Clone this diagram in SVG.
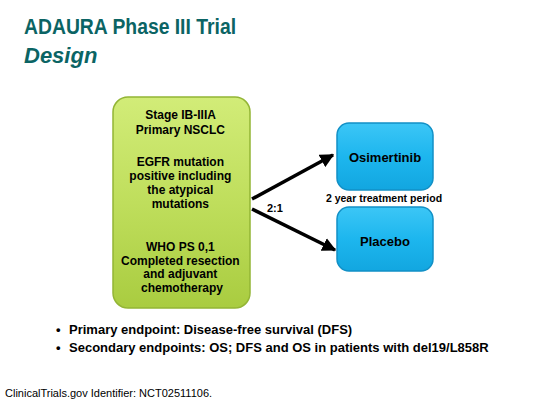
<svg xmlns="http://www.w3.org/2000/svg" width="540" height="405" viewBox="0 0 540 405">
<defs>
<linearGradient id="gGreen" x1="0" y1="0" x2="0" y2="1">
<stop offset="0" stop-color="#D2EC78"/>
<stop offset="0.5" stop-color="#BFDE5C"/>
<stop offset="1" stop-color="#A9CC40"/>
</linearGradient>
<linearGradient id="gBlue" x1="0" y1="0" x2="0" y2="1">
<stop offset="0" stop-color="#3CC6F6"/>
<stop offset="0.5" stop-color="#1DB6EE"/>
<stop offset="1" stop-color="#12A6E0"/>
</linearGradient>
<marker id="arr" viewBox="0 0 10 10" refX="9" refY="5" markerWidth="4" markerHeight="4" orient="auto" markerUnits="strokeWidth">
<path d="M0,0 L10,5 L0,10 z" fill="#000"/>
</marker>
</defs>
<style>
.title{font-family:"Liberation Sans",Arial,sans-serif;font-weight:bold;fill:#0B6464}
.box{font-family:"Liberation Sans",Arial,sans-serif;font-weight:bold;fill:#000;text-anchor:middle}
.body{font-family:"Liberation Sans",Arial,sans-serif;font-weight:bold;fill:#000}
.conn{stroke:#000;stroke-width:3.5;fill:none;marker-end:url(#arr)}
</style>
<rect width="540" height="405" fill="#fff"/>
<text class="title" x="24" y="34" font-size="22" textLength="212" lengthAdjust="spacingAndGlyphs">ADAURA Phase III Trial</text>
<text class="title" x="24" y="63" font-size="22" font-style="italic">Design</text>

<g id="connectors">
<line class="conn" x1="252" y1="199" x2="333" y2="155"/>
<line class="conn" x1="252" y1="209" x2="335" y2="250"/>
</g>

<g id="eligibility">
<rect x="113" y="97" width="137" height="211" rx="15" fill="url(#gGreen)" stroke="#93B535" stroke-width="1.5"/>
<text class="box" font-size="12">
<tspan x="182" y="119">Stage IB-IIIA</tspan>
<tspan x="182" y="134">Primary NSCLC</tspan>
<tspan x="182" y="166">EGFR mutation</tspan>
<tspan x="182" y="180">positive including</tspan>
<tspan x="182" y="194">the atypical</tspan>
<tspan x="182" y="208">mutations</tspan>
<tspan x="182" y="251">WHO PS 0,1</tspan>
<tspan x="182" y="265">Completed resection</tspan>
<tspan x="182" y="278">and adjuvant</tspan>
<tspan x="182" y="292">chemotherapy</tspan>
</text>
</g>

<g id="osimertinib">
<rect x="337" y="123" width="96" height="67" rx="12" fill="url(#gBlue)" stroke="#1290C6" stroke-width="1.5"/>
<text class="box" x="385" y="162" font-size="13">Osimertinib</text>
</g>

<g id="placebo">
<rect x="337" y="207" width="96" height="64" rx="12" fill="url(#gBlue)" stroke="#1290C6" stroke-width="1.5"/>
<text class="box" x="385" y="246" font-size="13">Placebo</text>
</g>

<text class="body" x="267" y="212" font-size="11">2:1</text>
<text class="box" x="384" y="202" font-size="10.5">2 year treatment period</text>

<text class="body" font-size="13">
<tspan x="56" y="334">•</tspan><tspan x="69" y="334">Primary endpoint: Disease-free survival (DFS)</tspan>
</text>
<text class="body" font-size="13">
<tspan x="56" y="352">•</tspan><tspan x="69" y="352">Secondary endpoints: OS; DFS and OS in patients with del19/L858R</tspan>
</text>
<text x="5" y="397" font-family="'Liberation Sans',Arial,sans-serif" font-size="11" fill="#000">ClinicalTrials.gov Identifier: NCT02511106.</text>
</svg>
